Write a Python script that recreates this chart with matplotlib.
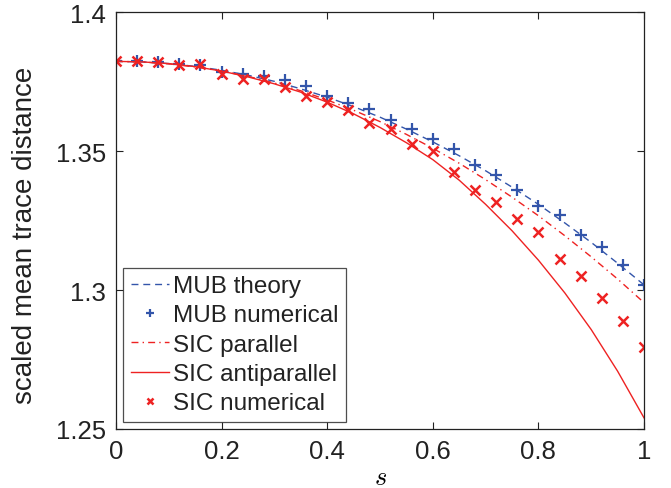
import matplotlib
matplotlib.use("Agg")
import matplotlib.pyplot as plt

# Theory curves (read at s = 0, 0.05, ..., 1)
s_line = [0.00, 0.05, 0.10, 0.15, 0.20, 0.25, 0.30, 0.35, 0.40, 0.45, 0.50,
          0.55, 0.60, 0.65, 0.70, 0.75, 0.80, 0.85, 0.90, 0.95, 1.00]
mub_theory = [1.3824, 1.3822, 1.3816, 1.3806, 1.3792, 1.3774, 1.3752, 1.3725,
              1.3695, 1.3661, 1.3623, 1.3580, 1.3534, 1.3484, 1.3430, 1.3371,
              1.3309, 1.3242, 1.3172, 1.3097, 1.3019]
sic_parallel = [1.3824, 1.3822, 1.3815, 1.3804, 1.3789, 1.3770, 1.3746, 1.3718,
                1.3685, 1.3648, 1.3607, 1.3561, 1.3511, 1.3457, 1.3398, 1.3335,
                1.3268, 1.3196, 1.3120, 1.3040, 1.2955]
sic_antiparallel = [1.3824, 1.3822, 1.3816, 1.3805, 1.3789, 1.3768, 1.3743, 1.3713,
                    1.3677, 1.3635, 1.3586, 1.3531, 1.3470, 1.3396, 1.3309, 1.3214,
                    1.3108, 1.2990, 1.2858, 1.2708, 1.2540]

# Numerical points (s = 0, 0.04, ..., 1)
s_pts = [0.00, 0.04, 0.08, 0.12, 0.16, 0.20, 0.24, 0.28, 0.32, 0.36, 0.40, 0.44, 0.48,
         0.52, 0.56, 0.60, 0.64, 0.68, 0.72, 0.76, 0.80, 0.84, 0.88, 0.92, 0.96, 1.00]
mub_numerical = [1.3824, 1.3824, 1.3822, 1.3814, 1.3810, 1.3784, 1.3778, 1.3772,
                 1.3756, 1.3735, 1.3699, 1.3673, 1.3654, 1.3613, 1.3579, 1.3543,
                 1.3507, 1.3449, 1.3414, 1.3360, 1.3304, 1.3272, 1.3200, 1.3155,
                 1.3089, 1.3019]
sic_numerical = [1.3824, 1.3826, 1.3822, 1.3810, 1.3814, 1.3780, 1.3760, 1.3762,
                 1.3733, 1.3699, 1.3678, 1.3649, 1.3601, 1.3579, 1.3525, 1.3501,
                 1.3425, 1.3362, 1.3316, 1.3256, 1.3211, 1.3113, 1.3051, 1.2971,
                 1.2889, 1.2794]

x_ticks = [0, 0.2, 0.4, 0.6, 0.8, 1]
x_ticklabels = ["0", "0.2", "0.4", "0.6", "0.8", "1"]
y_ticks = [1.25, 1.3, 1.35, 1.4]
y_ticklabels = ["1.25", "1.3", "1.35", "1.4"]

plt.rcParams['font.family'] = ['Liberation Sans', 'DejaVu Sans']
plt.rcParams['mathtext.fontset'] = 'cm'

blue = '#3355aa'
red = '#ee2222'
dark = '#222222'

fig = plt.figure(figsize=(6.71, 4.89), dpi=100)
ax = fig.add_axes([0.1729, 0.1207, 0.7869, 0.8517])

ax.plot(s_line, mub_theory, '--', color=blue, lw=1.0, dashes=(5, 3.5), label='MUB theory')
ax.plot(s_pts, mub_numerical, '+', color=blue, ms=9, mew=1.6, ls='none', label='MUB numerical')
ax.plot(s_line, sic_parallel, '-.', color=red, lw=1.0, dashes=(5, 3, 1, 3), label='SIC parallel')
ax.plot(s_line, sic_antiparallel, '-', color=red, lw=1.0, label='SIC antiparallel')
ax.plot(s_pts, sic_numerical, 'x', color=red, ms=6.5, mew=1.8, ls='none', label='SIC numerical')

ax.set_xlim(0, 1)
ax.set_ylim(1.25, 1.4)
ax.set_xticks(x_ticks)
ax.set_xticklabels(x_ticklabels)
ax.set_yticks(y_ticks)
ax.set_yticklabels(y_ticklabels)
ax.tick_params(direction='in', top=True, right=True, length=5, width=0.8,
               labelsize=18.5, colors=dark, pad=7)
for sp in ax.spines.values():
    sp.set_linewidth(0.9)
    sp.set_color(dark)

ax.set_xlabel('$s$', fontsize=19, labelpad=2)
ax.set_ylabel('scaled mean trace distance', fontsize=20, color=dark)
ax.yaxis.set_label_coords(-0.148, 0.468)

leg = ax.legend(loc='lower left', fontsize=17.5, frameon=True, fancybox=False,
                handlelength=1.6, handletextpad=0.15, borderpad=0.3, labelspacing=0.3,
                borderaxespad=0.3, markerscale=0.7)
leg.get_frame().set_edgecolor(dark)
leg.get_frame().set_linewidth(0.9)
for t in leg.get_texts():
    t.set_color(dark)

fig.savefig('out.png', dpi=100)
